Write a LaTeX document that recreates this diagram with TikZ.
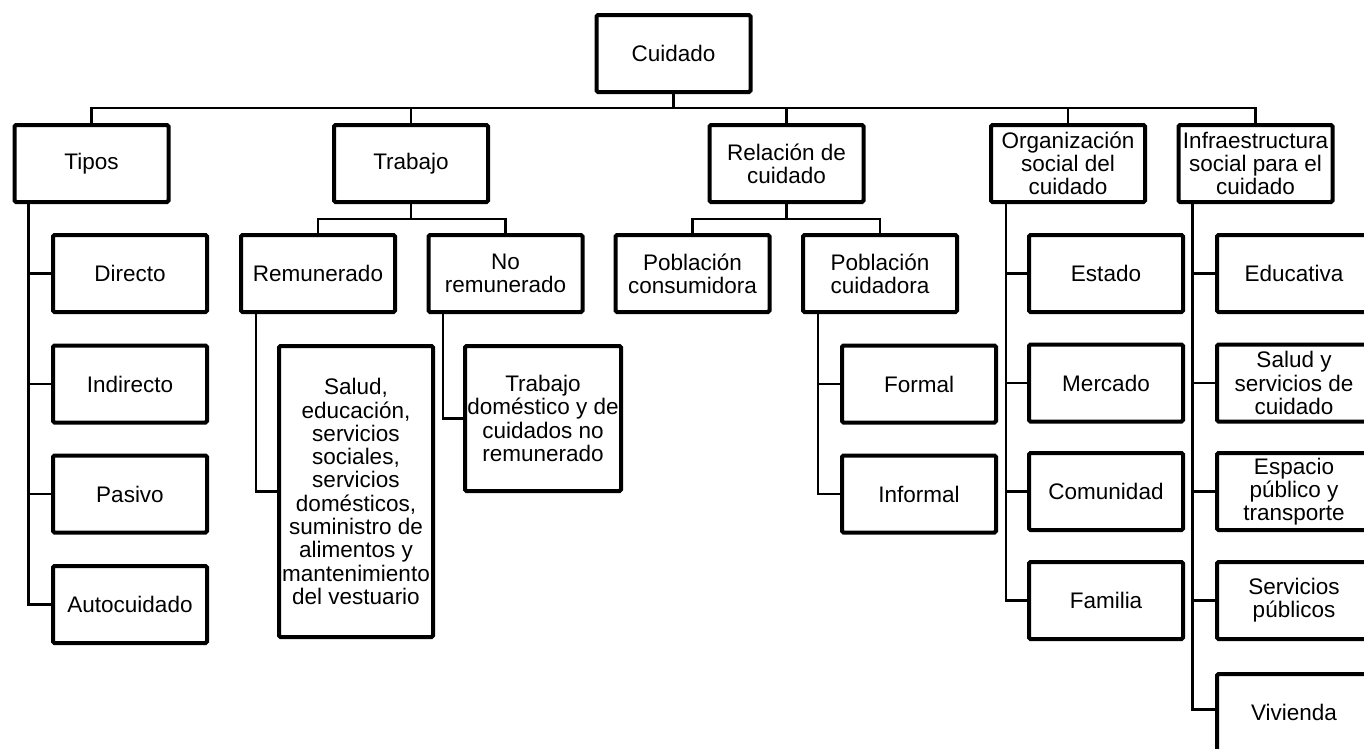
\documentclass[tikz,border=0pt]{standalone}
\usepackage{fontspec}
\setmainfont{Liberation Sans}
\begin{document}
\begin{tikzpicture}[x=1pt,y=-1pt,
  box/.style={draw=black, line width=4pt, rounded corners=1.5pt, inner sep=0pt,
    minimum width=154pt, minimum height=77pt, align=center,
    font=\fontsize{22.5}{23.3}\selectfont},
  conn/.style={draw=black, line width=2.8pt}]
\useasboundingbox (0,0) rectangle (1364,748);
% level 0
\node[box] (cuidado) at (673.5,53.5) {Cuidado};
% level 1
\node[box] (tipos) at (91.5,163.5) {Tipos};
\node[box] (trabajo) at (411,163.5) {Trabajo};
\node[box] (relacion) at (786.5,163.5) {Relación de\\cuidado};
\node[box] (org) at (1068,163.5) {Organización\\social del\\cuidado};
\node[box] (infra) at (1255.5,163.5) {Infraestructura\\social para el\\cuidado};
% Tipos children
\node[box] (directo) at (130,273.5) {Directo};
\node[box] (indirecto) at (130,384) {Indirecto};
\node[box] (pasivo) at (130,494) {Pasivo};
\node[box] (autocuidado) at (130,604.5) {Autocuidado};
% Trabajo children
\node[box] (remunerado) at (318,273.5) {Remunerado};
\node[box] (noremun) at (505.5,273.5) {No\\remunerado};
\node[box, minimum height=291pt] (salud) at (356,491.5) {Salud,\\educación,\\servicios\\sociales,\\servicios\\domésticos,\\suministro de\\alimentos y\\mantenimiento\\del vestuario};
\node[box, minimum width=156pt, minimum height=145pt] (domestico) at (543,418.5) {Trabajo\\doméstico y de\\cuidados no\\remunerado};
% Relacion children
\node[box] (consum) at (692.5,273.5) {Población\\consumidora};
\node[box] (cuidadora) at (880,273.5) {Población\\cuidadora};
\node[box] (formal) at (919,384) {Formal};
\node[box] (informal) at (919,494) {Informal};
% Organizacion children
\node[box] (estado) at (1106,273.5) {Estado};
\node[box] (mercado) at (1106,383) {Mercado};
\node[box] (comunidad) at (1106,491.5) {Comunidad};
\node[box] (familia) at (1106,600.5) {Familia};
% Infra children
\node[box] (educativa) at (1294,273.5) {Educativa};
\node[box] (saludserv) at (1294,383) {Salud y\\servicios de\\cuidado};
\node[box] (espacio) at (1294,491.5) {Espacio\\público y\\transporte};
\node[box] (servpub) at (1294,600.5) {Servicios\\públicos};
\node[box] (vivienda) at (1294,712.5) {Vivienda};

% top bus
\coordinate (b0) at ([yshift=-14pt]cuidado.south);
\draw[conn] (cuidado.south) -- (b0);
\draw[conn] (tipos.north) |- (b0) -| (infra.north);
\foreach \n in {trabajo,relacion,org} \draw[conn] (\n.north) -- (\n.north |- b0);

% Tipos
\coordinate (tipV) at ([xshift=-63pt]tipos.south);
\draw[conn] (tipV) |- (autocuidado.west);
\foreach \n in {directo,indirecto,pasivo} \draw[conn] (tipV |- \n.west) -- (\n.west);

% Trabajo
\coordinate (trabus) at ([yshift=-15pt]trabajo.south);
\draw[conn] (trabajo.south) -- (trabus);
\draw[conn] (remunerado.north) |- (trabus) -| (noremun.north);
\coordinate (remV) at ([xshift=-62pt]remunerado.south);
\draw[conn] (remV) |- (salud.west);
\coordinate (nrV) at ([xshift=-62.5pt]noremun.south);
\draw[conn] (nrV) |- (domestico.west);

% Relacion
\coordinate (relbus) at ([yshift=-15pt]relacion.south);
\draw[conn] (relacion.south) -- (relbus);
\draw[conn] (consum.north) |- (relbus) -| (cuidadora.north);
\coordinate (cuiV) at ([xshift=-62pt]cuidadora.south);
\draw[conn] (cuiV) |- (informal.west);
\draw[conn] (cuiV |- formal.west) -- (formal.west);

% Organizacion
\coordinate (orgV) at ([xshift=-62pt]org.south);
\draw[conn] (orgV) |- (familia.west);
\foreach \n in {estado,mercado,comunidad} \draw[conn] (orgV |- \n.west) -- (\n.west);

% Infra
\coordinate (infV) at ([xshift=-63pt]infra.south);
\draw[conn] (infV) |- ([yshift=3pt]vivienda.west);
\foreach \n in {educativa,saludserv,espacio,servpub} \draw[conn] (infV |- \n.west) -- (\n.west);
\end{tikzpicture}
\end{document}
